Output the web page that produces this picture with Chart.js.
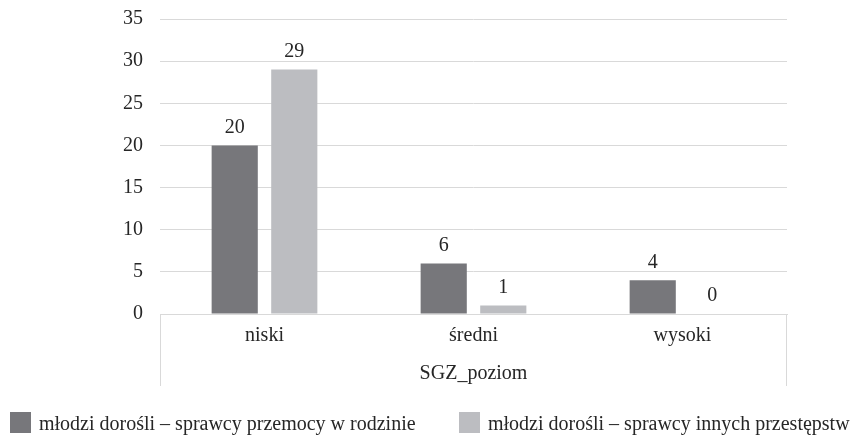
<!DOCTYPE html>
<html>
<head>
<meta charset="utf-8">
<script src="https://cdn.jsdelivr.net/npm/chart.js@4.4.1/dist/chart.umd.min.js"></script>
<style>
  body { margin: 0; background: #fff; }
  #wrap { position: relative; width: 862px; height: 436px; }
  #legend { position: absolute; left: 0; top: 412px; width: 862px; height: 22px;
            font: 20px "Liberation Serif", "DejaVu Serif", serif; color: #262626; }
  #legend span.item { position: absolute; top: 0; white-space: nowrap; line-height: 22px; }
  #legend i { display: inline-block; width: 21px; height: 21px; vertical-align: top; margin-right: 8px; }
</style>
</head>
<body>
<div id="wrap">
  <canvas id="chart" width="862" height="436"></canvas>
  <div id="legend"></div>
</div>
<script>
// data
const categories = ['niski', 'średni', 'wysoki'];
const seriesNames = ['młodzi dorośli – sprawcy przemocy w rodzinie', 'młodzi dorośli – sprawcy innych przestępstw'];
const familyViolence = [20, 6, 4];
const otherCrimes = [29, 1, 0];
const axisTitle = 'SGZ_poziom';
const yTicks = [0, 5, 10, 15, 20, 25, 30, 35];
const seriesColors = ['#77777b', '#bcbdc1'];

const fontFamily = '"Liberation Serif", "DejaVu Serif", serif';
const textColor = '#262626';
const fontSize = 20;

// bar value labels
const valueLabels = {
    id: 'valueLabels',
    afterDatasetsDraw(chart) {
        const ctx = chart.ctx;
        ctx.save();
        ctx.font = fontSize + 'px ' + fontFamily;
        ctx.fillStyle = textColor;
        ctx.textAlign = 'center';
        ctx.textBaseline = 'middle';
        chart.data.datasets.forEach((ds, i) => {
            chart.getDatasetMeta(i).data.forEach((bar, j) => {
                ctx.fillText(ds.data[j], bar.x, bar.y - 18);
            });
        });
        ctx.restore();
    }
};

// the box lines under the axis (left and right edges)
const axisBox = {
    id: 'axisBox',
    afterDraw(chart) {
        const ctx = chart.ctx;
        const a = chart.chartArea;
        const xs = chart.scales.x;
        ctx.save();
        ctx.strokeStyle = '#d9d9d9';
        ctx.lineWidth = 1;
        ctx.beginPath();
        ctx.moveTo(a.left + 0.5, a.bottom);
        ctx.lineTo(a.left + 0.5, xs.bottom);
        ctx.moveTo(a.right - 0.5, a.bottom);
        ctx.lineTo(a.right - 0.5, xs.bottom);
        ctx.stroke();
        ctx.restore();
    }
};

const chart = new Chart(document.getElementById('chart'), {
    type: 'bar',
    data: {
        labels: categories,
        datasets: [
            { label: seriesNames[0], data: familyViolence, backgroundColor: seriesColors[0] },
            { label: seriesNames[1], data: otherCrimes, backgroundColor: seriesColors[1] }
        ]
    },
    options: {
        responsive: false,
        animation: false,
        layout: { padding: { top: 0, right: 75, left: 0, bottom: 50 } },
        datasets: { bar: { categoryPercentage: 0.57, barPercentage: 0.775 } },
        scales: {
            x: {
                grid: { display: false, drawTicks: false },
                border: { display: true, color: '#d9d9d9' },
                ticks: { color: textColor, font: { family: fontFamily, size: fontSize }, padding: 10 },
                title: { display: true, text: axisTitle, color: textColor, font: { family: fontFamily, size: fontSize }, padding: { top: 10, bottom: 0 } },
                afterFit(scale) { scale.height = 72; }
            },
            y: {
                min: 0,
                max: 35,
                afterBuildTicks(scale) { scale.ticks = yTicks.map(v => ({ value: v })); },
                grid: { color: '#d9d9d9', drawTicks: false },
                border: { display: false },
                ticks: { color: textColor, font: { family: fontFamily, size: fontSize }, padding: 17 },
                afterFit(scale) {
                    scale.width = 160;
                    scale.paddingTop = 19;
                    scale.paddingBottom = 0;
                }
            }
        },
        plugins: {
            legend: { display: false },
            tooltip: { enabled: false }
        }
    },
    plugins: [valueLabels, axisBox]
});

// legend built from the datasets
const legendBox = document.getElementById('legend');
const legendLeft = [10, 459];
chart.data.datasets.forEach((ds, i) => {
    const item = document.createElement('span');
    item.className = 'item';
    item.style.left = legendLeft[i] + 'px';
    item.innerHTML = `<i style="background:${ds.backgroundColor}"></i>${ds.label}`;
    legendBox.appendChild(item);
});
</script>
</body>
</html>
